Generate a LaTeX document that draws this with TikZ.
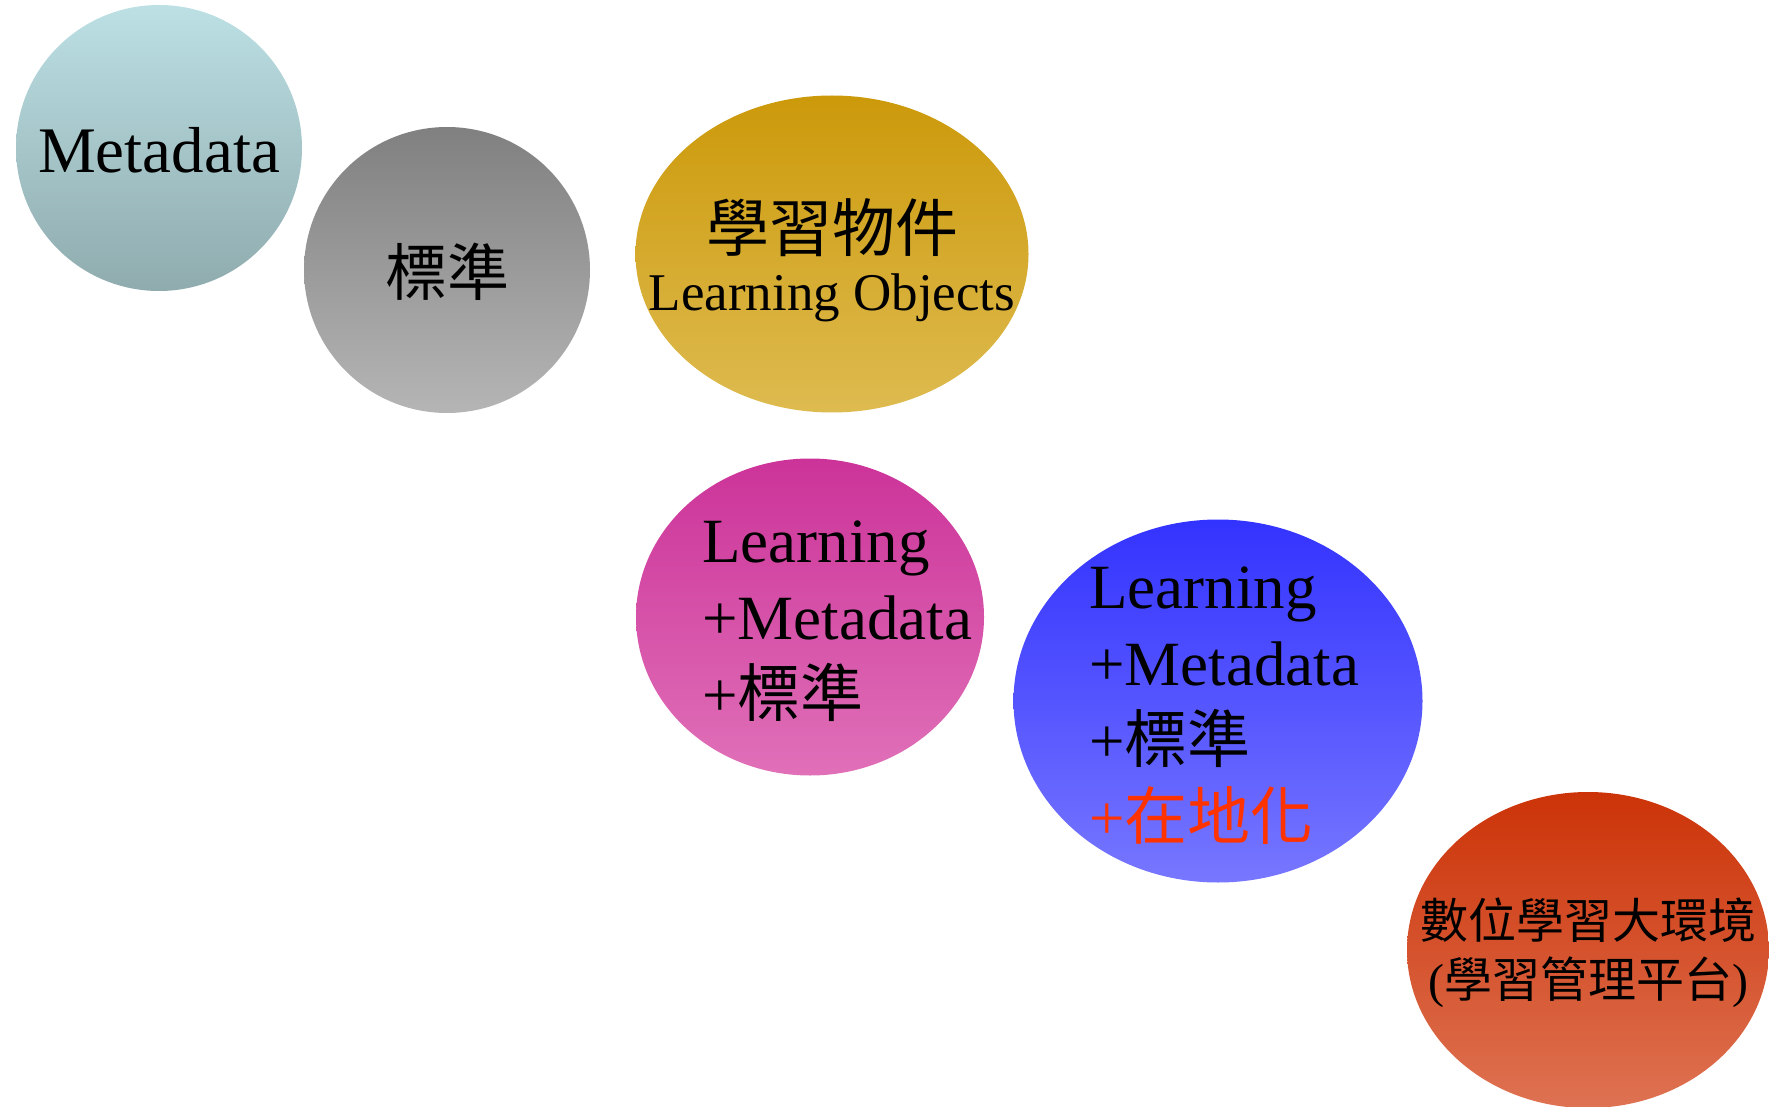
\documentclass[tikz,border=0pt]{standalone}
\usepackage{fontspec}
\setmainfont{Liberation Serif}
\newfontfamily\cjk{Noto Sans CJK TC}
\usepackage{tikz}
\usetikzlibrary{shapes.geometric}
\usepackage{xcolor}

\definecolor{metaTop}{HTML}{BCE0E4}
\definecolor{metaBot}{HTML}{8FABAE}
\definecolor{stdTop}{HTML}{808080}
\definecolor{stdBot}{HTML}{B5B5B5}
\definecolor{loTop}{HTML}{CC990A}
\definecolor{loBot}{HTML}{DEBB50}
\definecolor{lmTop}{HTML}{CC3399}
\definecolor{lmBot}{HTML}{E070B8}
\definecolor{lmsTop}{HTML}{3333FF}
\definecolor{lmsBot}{HTML}{7777FF}
\definecolor{envTop}{HTML}{CC3308}
\definecolor{envBot}{HTML}{DE7252}
\definecolor{localRed}{HTML}{FF3300}

\begin{document}
\begin{tikzpicture}[x=1pt, y=-1pt,
  bubble/.style={ellipse, inner sep=0pt, draw=none},
  label/.style={inner sep=0pt, text=black}]
  \def\big{\fontsize{63}{77}\selectfont}

  \useasboundingbox (0,0) rectangle (1769,1107);

  % bubbles
  \foreach \nm/\cx/\cy/\w/\h/\ctop/\cbot in {
      meta/159/148/286/286/metaTop/metaBot,
      std/447/270/286/286/stdTop/stdBot,
      lo/832/254/393/317/loTop/loBot,
      lm/810/617/348/317/lmTop/lmBot,
      lms/1218/701/409/363/lmsTop/lmsBot,
      env/1588/950/362/316/envTop/envBot} {
    \node[bubble, minimum width=\w, minimum height=\h,
          top color=\ctop, bottom color=\cbot] (\nm) at (\cx,\cy) {};
  }

  % texts
  \node[label, font=\fontsize{65}{78}\selectfont] (metaText) at (159,150) {Metadata};
  \node[label, font=\fontsize{62}{74}\selectfont\cjk] (stdText) at (447,272) {標準};
  \node[label, font=\fontsize{63}{74}\selectfont\cjk] (loCjk) at (832,228) {學習物件};
  \node[label, font=\fontsize{53}{64}\selectfont] (loEng) at (832,298) {Learning Objects};
  \node[label, anchor=west, align=left, font=\big] (lmText) at (702,621)
    {Learning\\+Metadata\\+{\cjk 標準}};
  \node[label, anchor=west, align=left, font=\big] (lmsText) at (1089,706)
    {Learning\\+Metadata\\+{\cjk 標準}\\\textcolor{localRed}{+{\cjk 在地化}}};
  \node[label, align=center, font=\fontsize{48}{59}\selectfont] (envText) at (1588,953)
    {{\cjk 數位學習大環境}\\({\cjk 學習管理平台})};
\end{tikzpicture}
\end{document}
